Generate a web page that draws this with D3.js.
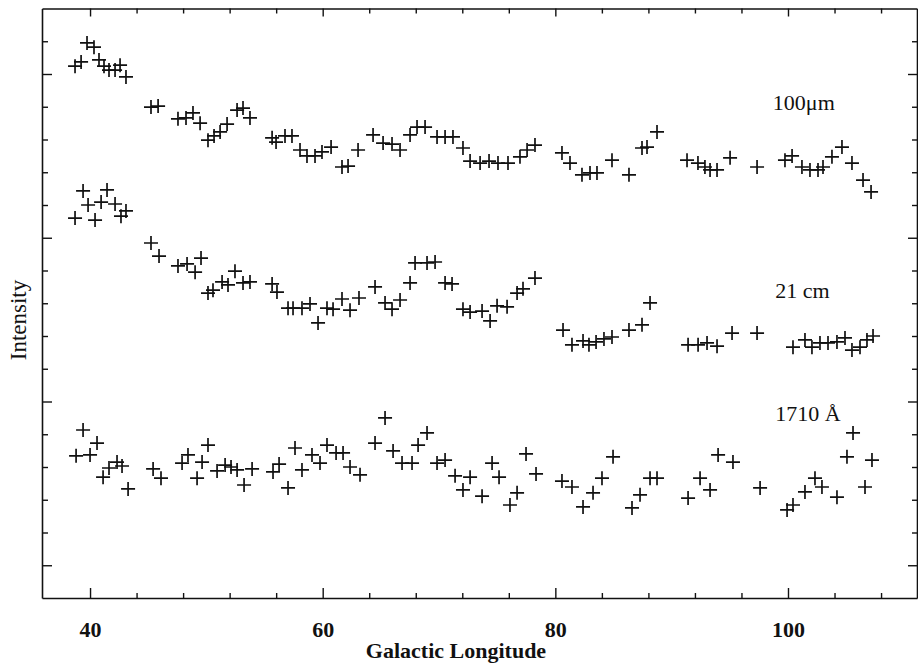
<!DOCTYPE html>
<html>
<head>
<meta charset="utf-8">
<script src="https://cdn.jsdelivr.net/npm/d3@7"></script>
<style>
  body { margin: 0; background: #fff; }
  .tick text { font-family: "Liberation Serif", serif; font-weight: bold; font-size: 22px; }
  .domain, .tick line { stroke: #111; }
</style>
</head>
<body>
<svg width="918" height="665"></svg>
<script>
// longitude / intensity pairs
let ir100 = [
  [38.71,16.24],[39.23,16.37],[39.74,16.95],[40.34,16.82],[40.77,16.43],[41.20,16.24],[41.63,16.12],[42.15,16.12],
  [42.58,16.27],[43.09,15.91],[45.24,14.99],[45.85,15.02],[47.56,14.63],[48.25,14.66],[48.85,14.81],[49.46,14.50],
  [50.14,13.98],[50.66,14.11],[51.18,14.23],[51.78,14.47],[52.64,14.90],[53.15,14.96],[53.75,14.66],[55.65,14.05],
  [55.99,13.92],[56.76,14.11],[57.36,14.11],[58.05,13.68],[58.65,13.50],[59.34,13.50],[59.94,13.62],[60.72,13.77],
  [61.66,13.16],[62.18,13.19],[63.04,13.68],[64.33,14.14],[65.19,13.89],[65.96,13.86],[66.65,13.68],[67.51,14.14],
  [68.11,14.38],[68.80,14.38],[69.83,14.08],[70.52,14.08],[71.20,14.08],[72.06,13.74],[72.67,13.34],[73.53,13.28],
  [74.30,13.34],[75.07,13.28],[75.93,13.28],[76.96,13.47],[77.57,13.68],[78.25,13.83],[80.57,13.59],[81.26,13.28],
  [82.29,12.92],[82.98,12.98],[83.58,12.98],[84.87,13.37],[86.33,12.92],[87.45,13.74],[87.88,13.77],[88.74,14.23],
  [91.32,13.37],[92.26,13.28],[92.86,13.16],[93.30,13.07],[93.90,13.07],[95.02,13.44],[97.34,13.16],[99.74,13.37],
  [100.35,13.50],[101.20,13.16],[101.89,13.07],[102.58,13.07],[103.01,13.16],[103.78,13.47],[104.64,13.77],[105.50,13.28],
  [106.45,12.76],[107.14,12.40]
];
let hi21 = [
  [38.71,11.60],[39.40,12.43],[39.83,12.00],[40.43,11.54],[40.95,12.09],[41.46,12.46],[42.15,12.03],[42.66,11.66],
  [43.09,11.82],[45.24,10.84],[45.93,10.44],[47.56,10.14],[48.34,10.20],[49.03,9.95],[49.54,10.38],[50.14,9.31],
  [50.57,9.40],[51.35,9.65],[51.86,9.56],[52.46,9.98],[53.15,9.62],[53.75,9.65],[55.65,9.59],[56.07,9.34],
  [57.02,8.85],[57.45,8.85],[58.22,8.85],[58.91,8.98],[59.60,8.40],[60.37,8.85],[60.89,8.82],[61.66,9.13],
  [62.35,8.79],[63.12,9.16],[64.50,9.50],[65.36,9.01],[65.96,8.82],[66.65,9.10],[67.51,9.62],[67.94,10.23],
  [68.97,10.23],[69.66,10.26],[70.52,9.62],[71.12,9.59],[72.06,8.82],[72.67,8.73],[73.70,8.76],[74.39,8.46],
  [74.99,8.92],[75.85,8.89],[76.71,9.31],[77.22,9.44],[78.25,9.77],[80.66,8.18],[81.43,7.73],[82.38,7.85],
  [82.89,7.73],[83.50,7.82],[84.18,7.91],[84.87,7.97],[86.33,8.18],[87.45,8.34],[88.14,9.01],[91.41,7.73],
  [92.27,7.73],[93.04,7.79],[93.90,7.69],[95.19,8.09],[97.34,8.09],[100.43,7.66],[101.46,7.88],[102.06,7.66],
  [102.75,7.79],[103.44,7.79],[104.21,7.82],[104.90,7.94],[105.50,7.57],[106.19,7.66],[106.79,7.88],[107.31,8.00]
];
let uv1710 = [
  [38.80,4.34],[39.40,5.13],[40.00,4.37],[40.60,4.73],[41.12,3.69],[41.63,3.97],[42.32,4.15],[42.75,4.03],
  [43.27,3.33],[45.42,3.94],[46.10,3.66],[47.91,4.12],[48.42,4.37],[49.20,3.66],[49.63,4.15],[50.14,4.67],
  [50.92,3.88],[51.61,4.06],[52.12,4.00],[52.64,3.91],[53.24,3.45],[53.93,3.94],[55.73,3.85],[56.25,4.09],
  [57.02,3.36],[57.62,4.58],[58.22,3.91],[59.08,4.37],[59.77,4.12],[60.37,4.67],[61.15,4.43],[61.75,4.43],
  [62.35,4.00],[63.21,3.76],[64.50,4.73],[65.36,5.50],[66.05,4.49],[66.82,4.12],[67.68,4.12],[68.20,4.67],
  [68.97,5.04],[69.83,4.12],[70.52,4.21],[71.38,3.73],[72.06,3.30],[72.67,3.69],[73.70,3.11],[74.56,4.12],
  [75.16,3.69],[76.10,2.84],[76.71,3.21],[77.48,4.40],[78.34,3.79],[80.57,3.57],[81.43,3.39],[82.38,2.78],
  [83.24,3.21],[84.01,3.66],[84.96,4.31],[86.59,2.75],[87.28,3.15],[88.14,3.66],[88.74,3.66],[91.41,3.05],
  [92.44,3.66],[93.30,3.30],[93.99,4.37],[95.27,4.15],[97.60,3.36],[99.92,2.69],[100.43,2.84],[101.46,3.24],
  [102.32,3.66],[102.92,3.39],[104.21,3.08],[105.07,4.31],[105.59,5.04],[106.62,3.39],[107.22,4.21]
];
let seriesLabels = [
  { text: "100\u03BCm", x: 98.7, y: 14.9 },
  { text: "21 cm", x: 98.9, y: 9.15 },
  { text: "1710 \u00C5", x: 98.9, y: 5.4 }
];
let xMajor = [40, 60, 80, 100];
let xMinor = [44, 48, 52, 56, 64, 68, 72, 76, 84, 88, 92, 96, 104, 108];
let yMajor = [1, 6, 11, 16];
let yMinor = [2, 3, 4, 5, 7, 8, 9, 10, 12, 13, 14, 15, 17];

let svg = d3.select("svg");
let plot = { left: 42, right: 917, top: 8.5, bottom: 598 };

let xScale = d3.scaleLinear().domain([35.87, 111.09]).range([plot.left, plot.right]);
let yScale = d3.scaleLinear().domain([0, 18]).range([plot.bottom, plot.top]);

// bottom axis, ticks pointing inward
svg.append("g").attr("transform", "translate(0," + plot.bottom + ")")
  .call(d3.axisBottom(xScale).tickValues(xMajor).tickSizeInner(-10).tickSizeOuter(0).tickPadding(23).tickFormat(d3.format("d")))
  .call(g => g.select(".domain").attr("stroke-width", 1.6))
  .call(g => g.selectAll("line").attr("stroke-width", 1.4))
  .call(g => g.selectAll("text").attr("fill", "#111"));
svg.append("g").attr("transform", "translate(0," + plot.bottom + ")")
  .call(d3.axisBottom(xScale).tickValues(xMinor).tickSizeInner(-5).tickSizeOuter(0).tickFormat(""))
  .call(g => g.select(".domain").remove())
  .call(g => g.selectAll("line").attr("stroke-width", 1.4));

// top axis
svg.append("g").attr("transform", "translate(0," + plot.top + ")")
  .call(d3.axisTop(xScale).tickValues(xMajor).tickSizeInner(-8).tickSizeOuter(0).tickFormat(""))
  .call(g => g.select(".domain").attr("stroke-width", 1.6))
  .call(g => g.selectAll("line").attr("stroke-width", 1.4));
svg.append("g").attr("transform", "translate(0," + plot.top + ")")
  .call(d3.axisTop(xScale).tickValues(xMinor).tickSizeInner(-5).tickSizeOuter(0).tickFormat(""))
  .call(g => g.select(".domain").remove())
  .call(g => g.selectAll("line").attr("stroke-width", 1.4));

// left axis, no labels
svg.append("g").attr("transform", "translate(" + plot.left + ",0)")
  .call(d3.axisLeft(yScale).tickValues(yMajor).tickSizeInner(-10).tickSizeOuter(0).tickFormat(""))
  .call(g => g.select(".domain").attr("stroke-width", 1.6))
  .call(g => g.selectAll("line").attr("stroke-width", 1.4));
svg.append("g").attr("transform", "translate(" + plot.left + ",0)")
  .call(d3.axisLeft(yScale).tickValues(yMinor).tickSizeInner(-6).tickSizeOuter(0).tickFormat(""))
  .call(g => g.select(".domain").remove())
  .call(g => g.selectAll("line").attr("stroke-width", 1.4));

// right axis
svg.append("g").attr("transform", "translate(" + plot.right + ",0)")
  .call(d3.axisRight(yScale).tickValues(yMajor).tickSizeInner(-9).tickSizeOuter(0).tickFormat(""))
  .call(g => g.select(".domain").attr("stroke-width", 1.6))
  .call(g => g.selectAll("line").attr("stroke-width", 1.4));
svg.append("g").attr("transform", "translate(" + plot.right + ",0)")
  .call(d3.axisRight(yScale).tickValues(yMinor).tickSizeInner(-5).tickSizeOuter(0).tickFormat(""))
  .call(g => g.select(".domain").remove())
  .call(g => g.selectAll("line").attr("stroke-width", 1.4));

// the crosses
let cross = "M-7,0H7M0,-7V7";
[ir100, hi21, uv1710].forEach(function (series) {
  svg.append("g").selectAll("path")
    .data(series)
    .enter().append("path")
    .attr("d", cross)
    .attr("transform", d => "translate(" + xScale(d[0]) + "," + yScale(d[1]) + ")")
    .attr("fill", "none")
    .attr("stroke", "#111")
    .attr("stroke-width", 1.7);
});

svg.append("g").selectAll("text")
  .data(seriesLabels)
  .enter().append("text")
  .attr("x", d => xScale(d.x))
  .attr("y", d => yScale(d.y))
  .style("font-family", "'Liberation Serif', serif")
  .style("font-size", "22px")
  .attr("fill", "#111")
  .text(d => d.text);

// axis titles
svg.append("text")
  .attr("x", 456)
  .attr("y", 658)
  .style("text-anchor", "middle")
  .style("font-family", "'Liberation Serif', serif")
  .style("font-weight", "bold")
  .style("font-size", "22px")
  .attr("fill", "#111")
  .text("Galactic Longitude");

svg.append("text")
  .attr("transform", "translate(26,320) rotate(-90)")
  .style("text-anchor", "middle")
  .style("font-family", "'Liberation Serif', serif")
  .style("font-size", "23px")
  .attr("fill", "#111")
  .text("Intensity");
</script>
</body>
</html>
